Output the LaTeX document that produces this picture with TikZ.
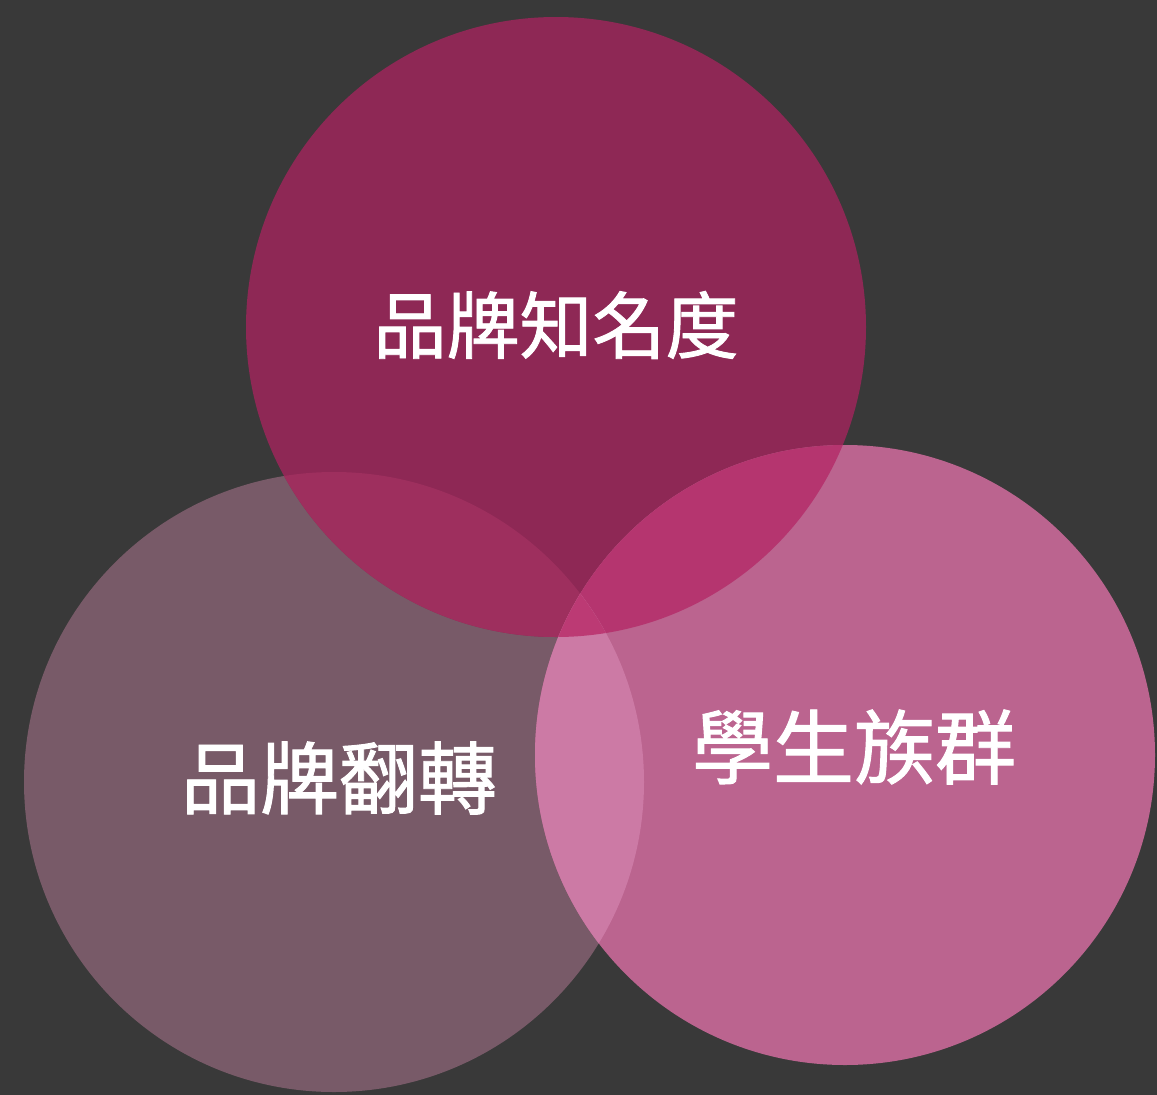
\documentclass[tikz,border=0pt]{standalone}
\usepackage{fontspec}
\newfontfamily\cjk[FakeBold=1.2]{Noto Sans CJK TC}
\definecolor{bgc}{HTML}{393939}
\definecolor{cT}{HTML}{8E2855}
\definecolor{cL}{HTML}{785A68}
\definecolor{cR}{HTML}{BB648F}
\definecolor{cTL}{HTML}{9E2F5E}
\definecolor{cTR}{HTML}{B5356F}
\definecolor{cLR}{HTML}{CC7AA5}
\definecolor{cTLR}{HTML}{BC3A74}
\tikzset{lbl/.style={text=white,font=\cjk,inner sep=0pt}}
\begin{document}
\begin{tikzpicture}[x=1pt,y=-1pt]
\fill[bgc] (0,0) rectangle (1157,1095);
\useasboundingbox (0,0) rectangle (1157,1095);
\coordinate (T) at (556,327);
\coordinate (L) at (334,782);
\coordinate (R) at (845,755);
\fill[cL] (L) circle[radius=310pt];
\fill[cT] (T) circle[radius=310pt];
\fill[cR] (R) circle[radius=310pt];
\begin{scope}
\clip (T) circle[radius=310pt];
\fill[cTL] (L) circle[radius=310pt];
\end{scope}
\begin{scope}
\clip (T) circle[radius=310pt];
\fill[cTR] (R) circle[radius=310pt];
\end{scope}
\begin{scope}
\clip (L) circle[radius=310pt];
\fill[cLR] (R) circle[radius=310pt];
\end{scope}
\begin{scope}
\clip (L) circle[radius=310pt];
\clip (T) circle[radius=310pt];
\fill[cTLR] (R) circle[radius=310pt];
\end{scope}
\node[lbl,font=\cjk\fontsize{73}{80}\selectfont] (tT) at (556,325) {品牌知名度};
\node[lbl,font=\cjk\fontsize{79}{86}\selectfont] (tL) at (339,778) {品牌翻轉};
\node[lbl,font=\cjk\fontsize{81}{88}\selectfont] (tR) at (854,747) {學生族群};
\end{tikzpicture}
\end{document}
